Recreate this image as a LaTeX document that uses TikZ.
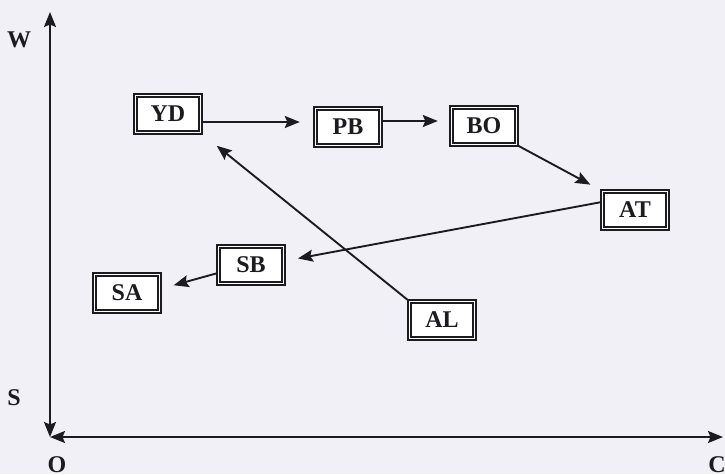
\documentclass[tikz,border=0pt]{standalone}
\usepackage{fontspec}
\setmainfont{Liberation Serif}
\usetikzlibrary{arrows.meta}
\definecolor{paper}{RGB}{241,240,247}
\definecolor{ink}{RGB}{28,28,32}
\begin{document}
\begin{tikzpicture}[x=1pt,y=-1pt,
  state/.style={draw=ink, double=white, line width=1.4pt, double distance=1.8pt,
    fill=white, minimum width=65pt, minimum height=37pt, inner sep=0pt,
    font=\fontsize{24}{24}\selectfont\bfseries, text=ink},
  head/.style={},
  flow/.style={draw=ink, line width=1.9pt, -{Stealth[length=15pt,width=12pt,inset=2.5pt]}},
  axis/.style={draw=ink, line width=1.9pt,
    {Stealth[length=15pt,width=12pt,inset=2.5pt]}-{Stealth[length=15pt,width=12pt,inset=2.5pt]}},
  axlabel/.style={inner sep=0pt, font=\fontsize{24}{24}\selectfont\bfseries, text=ink}]

% canvas
\fill[paper] (0,0) rectangle (725,474);
\useasboundingbox (0,0) rectangle (725,474);

% axes
\coordinate (O) at (50,437);
\coordinate (Wend) at (50,12);
\coordinate (Cend) at (723,437);
\draw[axis] (O) -- (Wend);
\draw[axis] (O) -- (Cend);

\node[axlabel] (lw) at (19,40) {W};
\node[axlabel] (ls) at (14,398) {S};
\node[axlabel] (lo) at (57,465) {O};
\node[axlabel] (lc) at (717,465) {C};

% states
\node[state] (YD) at (168,114) {YD};
\node[state] (PB) at (348,127) {PB};
\node[state] (BO) at (484,126) {BO};
\node[state] (AT) at (635,210) {AT};
\node[state] (SB) at (251,265) {SB};
\node[state] (SA) at (127,293) {SA};
\node[state] (AL) at (442,320) {AL};

% transitions
\draw[flow, shorten >=15pt] ([yshift=-8pt]YD.east) -- ([yshift=5pt]PB.west);
\draw[flow, shorten >=13pt] ([yshift=6pt]PB.east) -- ([yshift=5pt]BO.west);
\draw[flow, shorten >=13pt] (BO.south east) -- (AT.north west);
\draw[flow, shorten >=14pt] ([yshift=8pt]AT.west) -- ([yshift=4pt]SB.east);
\draw[flow, shorten >=14pt] ([yshift=-8pt]SB.west) -- ([yshift=4pt]SA.east);
\draw[flow, shorten >=20pt] (AL.north west) -- (YD.south east);
\end{tikzpicture}
\end{document}
